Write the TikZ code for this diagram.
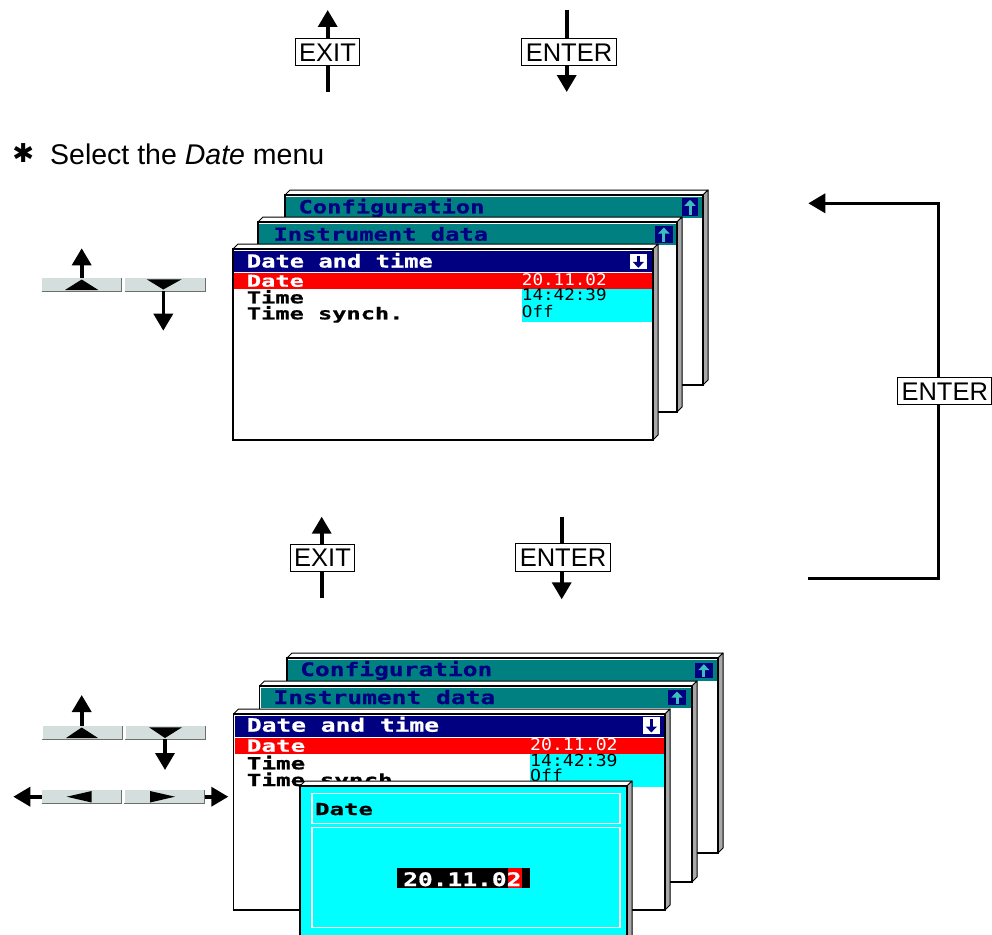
\documentclass[tikz,border=0pt]{standalone}
\usepackage{fontspec}
\setmainfont{Liberation Sans}
\newfontfamily\lcdb[FakeStretch=1.32,FakeBold=0.8]{DejaVu Sans Mono}
\newfontfamily\lcdr[FakeStretch=1.45,FakeBold=0.8]{DejaVu Sans Mono}
\newfontfamily\lcdv[FakeStretch=1.1]{DejaVu Sans Mono}
\newfontfamily\symfont{DejaVu Sans}
\usetikzlibrary{arrows.meta}

\definecolor{lcdteal}{RGB}{0,128,128}
\definecolor{lcdnavy}{RGB}{0,0,128}
\definecolor{lcdred}{RGB}{255,0,0}
\definecolor{lcdcyan}{RGB}{0,255,255}
\definecolor{sidegray}{RGB}{168,168,168}
\definecolor{keyfill}{RGB}{212,222,220}
\definecolor{keyedge}{RGB}{110,110,110}
\definecolor{iconarrow}{RGB}{60,190,190}

\newcommand\lcdsize[1]{\fontsize{#1}{#1}\selectfont}

% window: [fill]{x1}{y1}{x2}{y2}
\newcommand\scrwin[5][white]{%
  \filldraw[fill=white, line width=1pt, line join=round] (#2,#3) -- (#2+5,#3-5) -- (#4+5,#3-5) -- (#4,#3) -- cycle;
  \filldraw[fill=sidegray, line width=1pt, line join=round] (#4,#3) -- (#4+5,#3-5) -- (#4+5,#5-5) -- (#4,#5) -- cycle;
  \filldraw[fill=#1, line width=1.3pt] (#2,#3) rectangle (#4,#5);
}
\newcommand\upicon[4]{%
  \fill[lcdnavy] (#1,#2) rectangle (#3,#4);
  \draw[iconarrow, line width=3pt, -{Triangle[length=6pt,width=11pt]}] ({(#1+#3)/2},#4-1.5) -- ({(#1+#3)/2},#2+1.5);
}
\newcommand\downicon[4]{%
  \fill[white] (#1,#2) rectangle (#3,#4);
  \draw[lcdnavy, line width=3pt, -{Triangle[length=6pt,width=11pt]}] ({(#1+#3)/2},#2+1.5) -- ({(#1+#3)/2},#4-1.5);
}

\tikzset{
  arr/.style={line width=3.6pt, -{Triangle[length=17pt,width=19pt]}},
  keylabel/.style={draw, fill=white, line width=1.1pt, font=\lcdsize{25.5}, inner xsep=4pt, inner ysep=4.5pt, text height=18.3pt, text depth=0pt},
  keybox/.style={fill=keyfill, minimum width=80pt, minimum height=13pt, inner sep=0pt},
  lcdT/.style={anchor=base west, inner sep=0pt, font=\lcdb\bfseries\lcdsize{#1}},
  lcdR/.style={anchor=base west, inner sep=0pt, font=\lcdr\bfseries\lcdsize{#1}},
  lcdV/.style={anchor=base west, inner sep=0pt, font=\lcdv\lcdsize{#1}},
}

\begin{document}
\begin{tikzpicture}[x=1pt, y=-1pt]
\useasboundingbox (0,0) rectangle (992,934);
\clip (0,0) rectangle (992,934);

% ---------- top EXIT / ENTER ----------
\coordinate (e1b) at (327.7,92);
\coordinate (e1t) at (327.7,10);
\draw[arr] (e1b) -- (e1t);
\node[keylabel] (exit1) at (327.5,52) {EXIT};
\coordinate (n1t) at (566.7,10);
\coordinate (n1b) at (566.7,92);
\draw[arr] (n1t) -- (n1b);
\node[keylabel] (enter1) at (569,52) {ENTER};

% ---------- instruction ----------
\node[inner sep=0pt, font=\symfont\lcdsize{26}] (star) at (23.3,153.3) {✱};
\node[anchor=base west, inner sep=0pt, font=\lcdsize{28.5}] (instr) at (50,164) {Select the \textit{Date} menu};

% ---------- upper keys ----------
\node[keybox] (ku1) at (81.7,284.7) {};
\draw[keyedge, line width=1pt] (ku1.south west) -- (ku1.south east) -- (ku1.north east);
\fill (65,290) -- (98.3,290) -- (81.7,279.5) -- cycle;
\coordinate (ku1t) at (81.7,248.3);
\draw[arr] (ku1.north) -- (ku1t);
\node[keybox] (kd1) at (165,284.7) {};
\draw[keyedge, line width=1pt] (kd1.south west) -- (kd1.south east) -- (kd1.north east);
\fill (146.7,279.3) -- (181.7,279.3) -- (163.3,289.5) -- cycle;
\coordinate (kd1b) at (163.3,330.7);
\draw[arr] (163.3,291) -- (kd1b);

% ---------- upper screens ----------
\scrwin{285}{195}{703}{385}
\fill[lcdteal] (286,196.5) rectangle (702,217.5);
\upicon{681.7}{198.3}{698.3}{216}
\node[lcdT=18, text=lcdnavy] (cfg1) at (298.3,213.3) {Configuration};

\scrwin{258}{222}{677}{412}
\fill[lcdteal] (259,223.5) rectangle (676,245);
\upicon{655}{226}{672.7}{243.3}
\node[lcdT=18, text=lcdnavy] (ins1) at (273.3,240.7) {Instrument data};

\scrwin{233}{249}{653}{440}
\fill[lcdnavy] (234,250.5) rectangle (652,271.5);
\fill[lcdred] (234,272.5) rectangle (652,289.3);
\fill[lcdcyan] (521.7,289.3) rectangle (652,321.7);
\downicon{630}{254}{646.7}{269.3}
\node[lcdT=18, text=white] (dt1) at (246.7,267.5) {Date and time};
\node[lcdR=16.3, text=white] (r1a) at (246.7,286.7) {Date};
\node[lcdR=16.3] (r1b) at (246.7,303.3) {Time};
\node[lcdR=16.3] (r1c) at (246.7,319.3) {Time synch.};
\node[lcdV=16, text=white] (v1a) at (521.7,285) {20.11.02};
\node[lcdV=16] (v1b) at (521.7,300.7) {14:42:39};
\node[lcdV=16] (v1c) at (521.7,317.3) {Off};

% ---------- right ENTER loop ----------
\coordinate (lb) at (808.3,578.3);
\coordinate (lbr) at (938.3,578.3);
\coordinate (ltr) at (938.3,203.3);
\coordinate (lt) at (808.3,203.3);
\draw[arr, line join=miter] (lb) -- (lbr) -- (ltr) -- (lt);
\node[keylabel] (enter3) at (944.7,391) {ENTER};

% ---------- middle EXIT / ENTER ----------
\coordinate (e2b) at (321.7,598.3);
\coordinate (e2t) at (321.7,516.7);
\draw[arr] (e2b) -- (e2t);
\node[keylabel] (exit2) at (322.5,557.8) {EXIT};
\coordinate (n2t) at (561.7,516.7);
\coordinate (n2b) at (561.7,599.3);
\draw[arr] (n2t) -- (n2b);
\node[keylabel] (enter2) at (563,557.5) {ENTER};

% ---------- lower keys ----------
\node[keybox] (ku2) at (82.5,732.7) {};
\draw[keyedge, line width=1pt] (ku2.south west) -- (ku2.south east) -- (ku2.north east);
\fill (66,738) -- (98,738) -- (81.7,727.5) -- cycle;
\coordinate (ku2t) at (81.7,695);
\draw[arr] (81.7,726) -- (ku2t);
\node[keybox] (kd2) at (165.5,732.7) {};
\draw[keyedge, line width=1pt] (kd2.south west) -- (kd2.south east) -- (kd2.north east);
\fill (149,727.3) -- (182,727.3) -- (165,738) -- cycle;
\coordinate (kd2b) at (165,770);
\draw[arr] (165,739.3) -- (kd2b);
\node[keybox] (kl2) at (81.7,796.7) {};
\draw[keyedge, line width=1pt] (kl2.south west) -- (kl2.south east) -- (kl2.north east);
\fill (66.7,796.7) -- (91.7,791) -- (91.7,802.5) -- cycle;
\coordinate (kl2l) at (13.3,796.7);
\draw[arr] (kl2.west) -- (kl2l);
\node[keybox] (kr2) at (164.5,796.7) {};
\draw[keyedge, line width=1pt] (kr2.south west) -- (kr2.south east) -- (kr2.north east);
\fill (175,796.7) -- (150,791) -- (150,802.5) -- cycle;
\coordinate (kr2r) at (228.3,796.7);
\draw[arr] (kr2.east) -- (kr2r);

% ---------- lower screens ----------
\scrwin{287}{658}{718}{853}
\fill[lcdteal] (288,659.5) rectangle (717,680.7);
\upicon{695}{662.7}{712.7}{678.3}
\node[lcdT=18.6, text=lcdnavy] (cfg2) at (300,676) {Configuration};

\scrwin{259.5}{686}{692}{882}
\fill[lcdteal] (260.5,687.5) rectangle (691,708.3);
\upicon{668}{690}{686}{705}
\node[lcdT=18.6, text=lcdnavy] (ins2) at (273.3,704) {Instrument data};

\scrwin{233.5}{714}{665}{910}
\fill[lcdnavy] (234.5,715.5) rectangle (664,736.7);
\fill[lcdred] (234.5,737.7) rectangle (664,754.3);
\fill[lcdcyan] (530,754.3) rectangle (664,786.7);
\downicon{642.7}{717.3}{660}{734}
\node[lcdT=18.6, text=white] (dt2) at (246.7,731.7) {Date and time};
\node[lcdR=16.7, text=white] (r2a) at (246.7,751.7) {Date};
\node[lcdR=16.7] (r2b) at (246.7,769.3) {Time};
\node[lcdR=16.7] (r2c) at (246.7,786) {Time synch.};
\node[lcdV=16.5, text=white] (v2a) at (530,750) {20.11.02};
\node[lcdV=16.5] (v2b) at (530,766.7) {14:42:39};
\node[lcdV=16.5] (v2c) at (530,781.7) {Off};

% ---------- popup ----------
\scrwin[lcdcyan]{300}{786}{627}{960}
\draw[white, line width=1.6pt] (311.7,793.3) rectangle (620,823.3);
\draw[white, line width=1.6pt] (311.7,827.3) rectangle (620,927.3);
\node[lcdR=16.5] (pdate) at (315,815) {Date};
\fill[black] (396.7,868.3) rectangle (530,888.3);
\fill[lcdred] (508,868.3) rectangle (521.7,888.3);
\node[lcdT=18.6, text=white] (pval) at (403,886) {20.11.02};
\end{tikzpicture}
\end{document}
